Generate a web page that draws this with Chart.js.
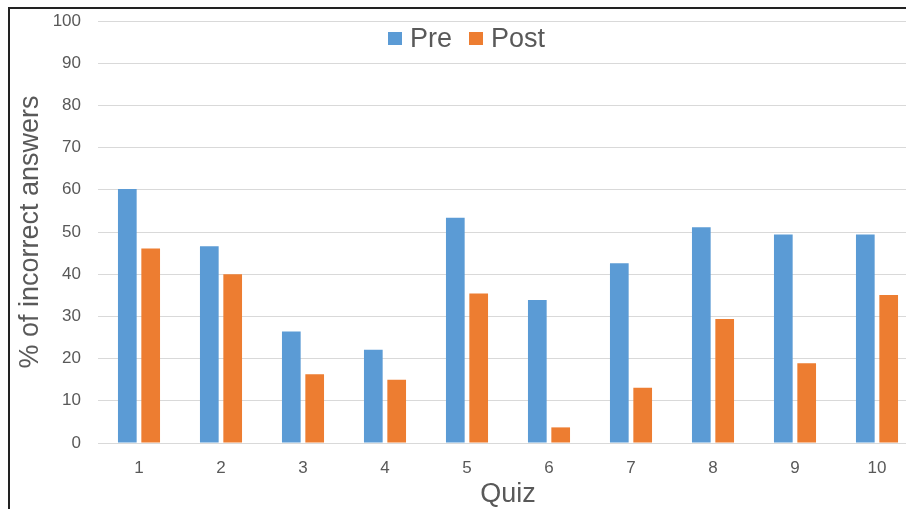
<!DOCTYPE html>
<html>
<head>
<meta charset="utf-8">
<script src="https://cdn.jsdelivr.net/npm/chart.js@4"></script>
<style>
  html, body { margin: 0; padding: 0; background: #fff; overflow: hidden; width: 906px; height: 509px; }
  .frame {
    position: absolute; left: 8px; top: 7px; width: 930px; height: 520px;
    border-left: 2px solid #222; border-top: 2px solid #222; overflow: hidden;
  }
  #quizChart { position: absolute; left: 0; top: 0; }
  #custom-legend {
    position: absolute; top: 23px; left: 388px;
    display: flex; align-items: center;
    font-family: "Liberation Sans", Arial, sans-serif; font-size: 27px; color: #595959;
  }
  .legend-item { display: flex; align-items: center; margin-right: 17px; }
  .legend-color { width: 14px; height: 13px; margin-right: 8px; }
</style>
</head>
<body>
<div class="frame">
  <canvas id="quizChart" width="915" height="506"></canvas>
</div>
<div id="custom-legend"></div>
<script>
// Quiz numbers on the x axis
const quizLabels = ['1', '2', '3', '4', '5', '6', '7', '8', '9', '10'];

// % of incorrect answers
const preData = [60.2, 46.6, 26.4, 22.1, 53.4, 33.9, 42.6, 51.1, 49.4, 49.4];
const postData = [46.1, 40.0, 16.3, 15.0, 35.4, 3.7, 13.1, 29.4, 18.9, 35.1];

const seriesLabels = ['Pre', 'Post'];
const seriesColors = ['#5B9BD5', '#ED7D31'];

const textColor = '#595959';
const gridColor = '#d9d9d9';
const fontFamily = '"Liberation Sans", Arial, sans-serif';

const ctx = document.getElementById('quizChart').getContext('2d');
const quizChart = new Chart(ctx, {
  type: 'bar',
  data: {
    labels: quizLabels,
    datasets: [
      { label: seriesLabels[0], data: preData, backgroundColor: seriesColors[0] },
      { label: seriesLabels[1], data: postData, backgroundColor: seriesColors[1] }
    ]
  },
  options: {
    responsive: false,
    animation: false,
    categoryPercentage: 0.57,
    barPercentage: 0.8,
    layout: { padding: { top: 12, right: 7, left: 0, bottom: 0 } },
    plugins: {
      legend: { display: false },
      tooltip: { enabled: false }
    },
    scales: {
      x: {
        grid: { display: false },
        border: { display: true, color: gridColor, width: 1 },
        ticks: { color: textColor, font: { family: fontFamily, size: 17 }, padding: 7 },
        title: { display: true, text: 'Quiz', color: textColor, font: { family: fontFamily, size: 27 } },
        afterFit: scale => { scale.height = 72; }
      },
      y: {
        min: 0,
        max: 100,
        ticks: { stepSize: 10, color: textColor, font: { family: fontFamily, size: 17 }, padding: 17 },
        grid: { color: gridColor, drawTicks: false },
        border: { display: false },
        title: { display: true, text: '% of incorrect answers', color: textColor, font: { family: fontFamily, size: 27 } },
        afterFit: scale => {
          scale.width = 88;
          // let the layout padding alone decide where the 100 line sits
          scale.paddingTop = 0;
          scale.paddingBottom = 0;
        }
      }
    }
  }
});

// Custom Legend (sits inside the plot, under the 100 line)
const legendBox = document.getElementById('custom-legend');
seriesLabels.forEach((label, index) => {
  const item = document.createElement('div');
  item.classList.add('legend-item');

  const colorBox = document.createElement('div');
  colorBox.classList.add('legend-color');
  colorBox.style.backgroundColor = seriesColors[index];

  const text = document.createElement('span');
  text.textContent = label;

  item.appendChild(colorBox);
  item.appendChild(text);
  legendBox.appendChild(item);
});
</script>
</body>
</html>
